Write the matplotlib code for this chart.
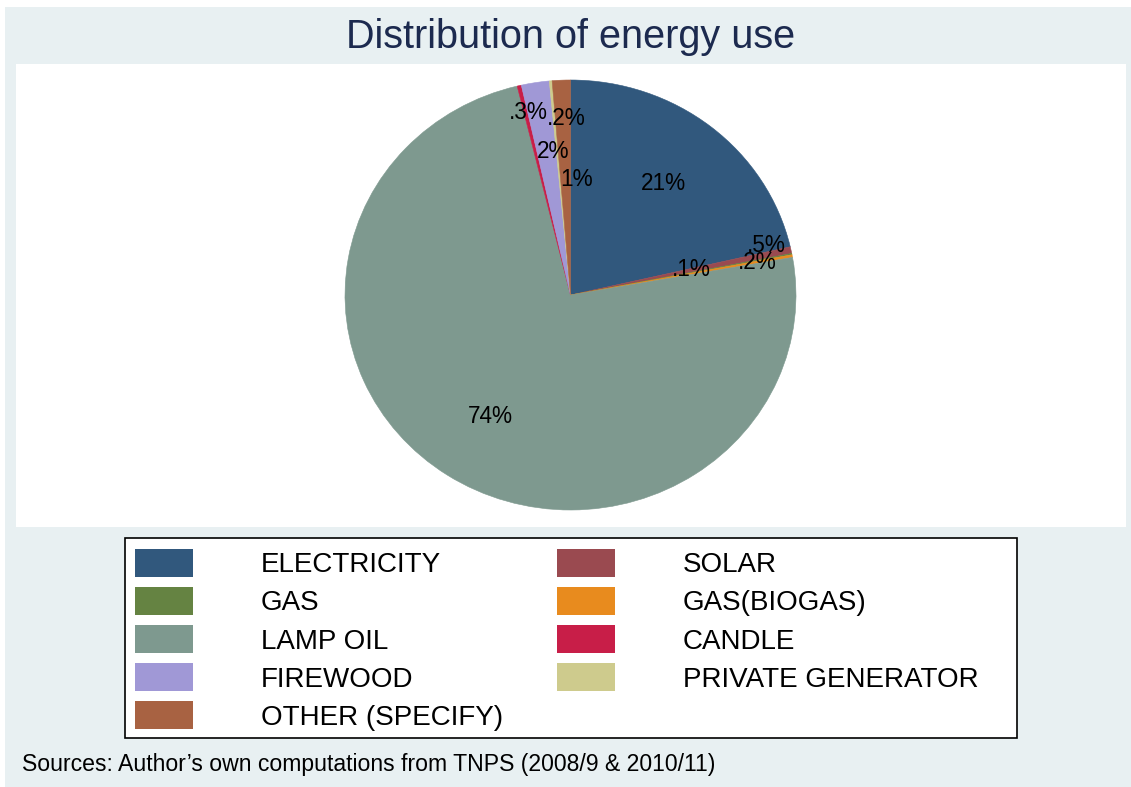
import matplotlib.pyplot as plt
import numpy as np
from matplotlib.patches import Rectangle, Patch

plt.rcParams['font.family'] = ['Liberation Sans', 'DejaVu Sans']

# pie slices, in drawing order (clockwise from 12 o'clock)
sources = ['ELECTRICITY', 'SOLAR', 'GAS', 'GAS(BIOGAS)', 'LAMP OIL',
           'CANDLE', 'FIREWOOD', 'PRIVATE GENERATOR', 'OTHER (SPECIFY)']
shares = [21.4, 0.5, 0.1, 0.2, 74.0, 0.3, 2.0, 0.2, 1.3]
colors = ['#31587D', '#9A4A50', '#658342', '#E88B1E', '#7E998F',
          '#C81E48', '#A098D6', '#CECB8D', '#A86242']

# legend reads across rows: left column then right column
legend_left = ['ELECTRICITY', 'GAS', 'LAMP OIL', 'FIREWOOD', 'OTHER (SPECIFY)']
legend_right = ['SOLAR', 'GAS(BIOGAS)', 'CANDLE', 'PRIVATE GENERATOR']

# label placement: fraction of radius and angular nudge (degrees)
lab_r = [0.66, 0.90, 0.55, 0.84, 0.67, 0.87, 0.67, 0.82, 0.54]
lab_dt = [0, 2.8, 1.3, 0, 0.9, -0.7, -2.3, -3.6, -5.0]

W, H = 1131, 787
fig = plt.figure(figsize=(W / 100, H / 100), dpi=100, facecolor='white')

def fbox(x0, y0, x1, y1):
    # pixel box (top-left origin) -> figure fraction rect
    return (x0 / W, 1 - y1 / H, (x1 - x0) / W, (y1 - y0) / H)

def add_rect(x0, y0, x1, y1, z, **kw):
    b = fbox(x0, y0, x1, y1)
    fig.patches.append(Rectangle(b[:2], b[2], b[3], transform=fig.transFigure,
                                 zorder=z, **kw))

add_rect(5, 7, W, H, -3, facecolor='#E8F0F2', edgecolor='none')
add_rect(16, 64, 1126, 527, -2, facecolor='white', edgecolor='none')

ax = fig.add_axes(fbox(345, 80, 796, 510), zorder=2)
ax.patch.set_visible(False)
wedges, _ = ax.pie(shares, colors=colors, startangle=90, counterclock=False,
                   radius=1, wedgeprops=dict(linewidth=0.4))
for w, c in zip(wedges, colors):
    w.set_edgecolor(c)
ax.set_aspect('auto')
ax.set_xlim(-1, 1)
ax.set_ylim(-1, 1)

for w, v, r, dt in zip(wedges, shares, lab_r, lab_dt):
    mid = np.deg2rad((w.theta1 + w.theta2) / 2 + dt)
    txt = f'{v:.0f}%' if v >= 1 else f'.{round(v * 10)}%'
    ax.text(r * np.cos(mid), r * np.sin(mid), txt, ha='center', va='center',
            fontsize=16.3, color='black')

fig.text(571 / W, 1 - 37 / H, 'Distribution of energy use', ha='center',
         va='center', fontsize=28.5, color='#1C2A4F')

# legend box
add_rect(125, 538, 1017, 738, 1, facecolor='white', edgecolor='black',
         linewidth=1.2)
cmap = dict(zip(sources, colors))
handles = [Patch(facecolor=cmap[s], edgecolor='none')
           for s in legend_left + legend_right]
fig.legend(handles, legend_left + legend_right, ncol=2, frameon=False,
           loc='upper left', bbox_to_anchor=(135 / W, 1 - 549 / H),
           borderpad=0, borderaxespad=0, fontsize=20, handlelength=2.09,
           handleheight=1.18, handletextpad=2.45, labelspacing=0.31,
           columnspacing=1.93)

fig.text(22 / W, 1 - 765 / H,
         'Sources: Author\u2019s own computations from TNPS (2008/9 & 2010/11)',
         ha='left', va='center', fontsize=16.6, color='black')

fig.savefig('out.png', dpi=100)
